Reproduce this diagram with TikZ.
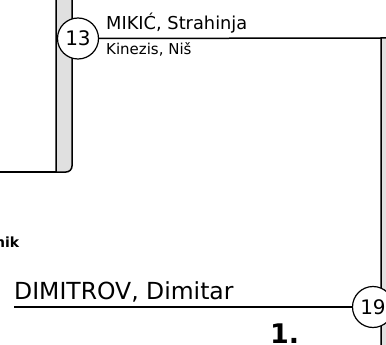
\documentclass[tikz,border=0pt]{standalone}
\usepackage{fontspec}
\setmainfont{DejaVu Sans}
\begin{document}
\begin{tikzpicture}[x=1pt,y=-1pt,
  bandfill/.style={fill=black!12},
  bandline/.style={draw=black,line width=1.5pt,line join=round},
  conn/.style={draw=black,line width=1.5pt},
  seed/.style={circle,draw=black,line width=1.2pt,fill=white,minimum size=41pt,inner sep=0pt,font=\fontsize{20}{20}\selectfont},
  lbl/.style={inner sep=0pt,anchor=base west}]
\useasboundingbox (0,0) rectangle (386,345);
% left bracket band (outer corner rounded only)
\fill[bandfill] (56,-20) -- (56,172) [rounded corners=6pt] -- (72,172) [sharp corners] -- (72,-20) -- cycle;
\draw[bandline] (56,-20) -- (56,172) [rounded corners=6pt] -- (72,172) [sharp corners] -- (72,-20);
\coordinate (lfoot) at (0,172);
\coordinate (lcorner) at (56,172);
\draw[conn] (lfoot) -- (lcorner);
% right bracket band
\fill[bandfill] (381,370) -- (381,38) [rounded corners=6pt] -- (397,38) [sharp corners] -- (397,370) -- cycle;
\draw[bandline] (381,370) -- (381,38) [rounded corners=6pt] -- (397,38) [sharp corners] -- (397,370);
\coordinate (rtop) at (381,38);
% seeds
\node[seed] (s13) at (78,38.5) {13};
\node[seed] (s19) at (373,307) {19};
\draw[conn] (s13) -- (rtop);
\coordinate (dstart) at (14,307);
\draw[conn] (dstart) -- (s19);
% labels
\node[lbl,font=\fontsize{17.8}{17.8}\selectfont] (n1) at (106,30) {MIKIĆ, Strahinja};
\node[lbl,font=\fontsize{15}{15}\selectfont] (n2) at (106,55) {Kinezis, Niš};
\node[inner sep=0pt,anchor=base east,font=\bfseries\fontsize{14}{14}\selectfont] (n3) at (19.5,247) {nik};
\node[lbl,font=\fontsize{23.5}{23.5}\selectfont] (n4) at (14,299) {DIMITROV, Dimitar};
\node[lbl,font=\bfseries\fontsize{27}{27}\selectfont] (n5) at (270,343) {1.};
\end{tikzpicture}
\end{document}
